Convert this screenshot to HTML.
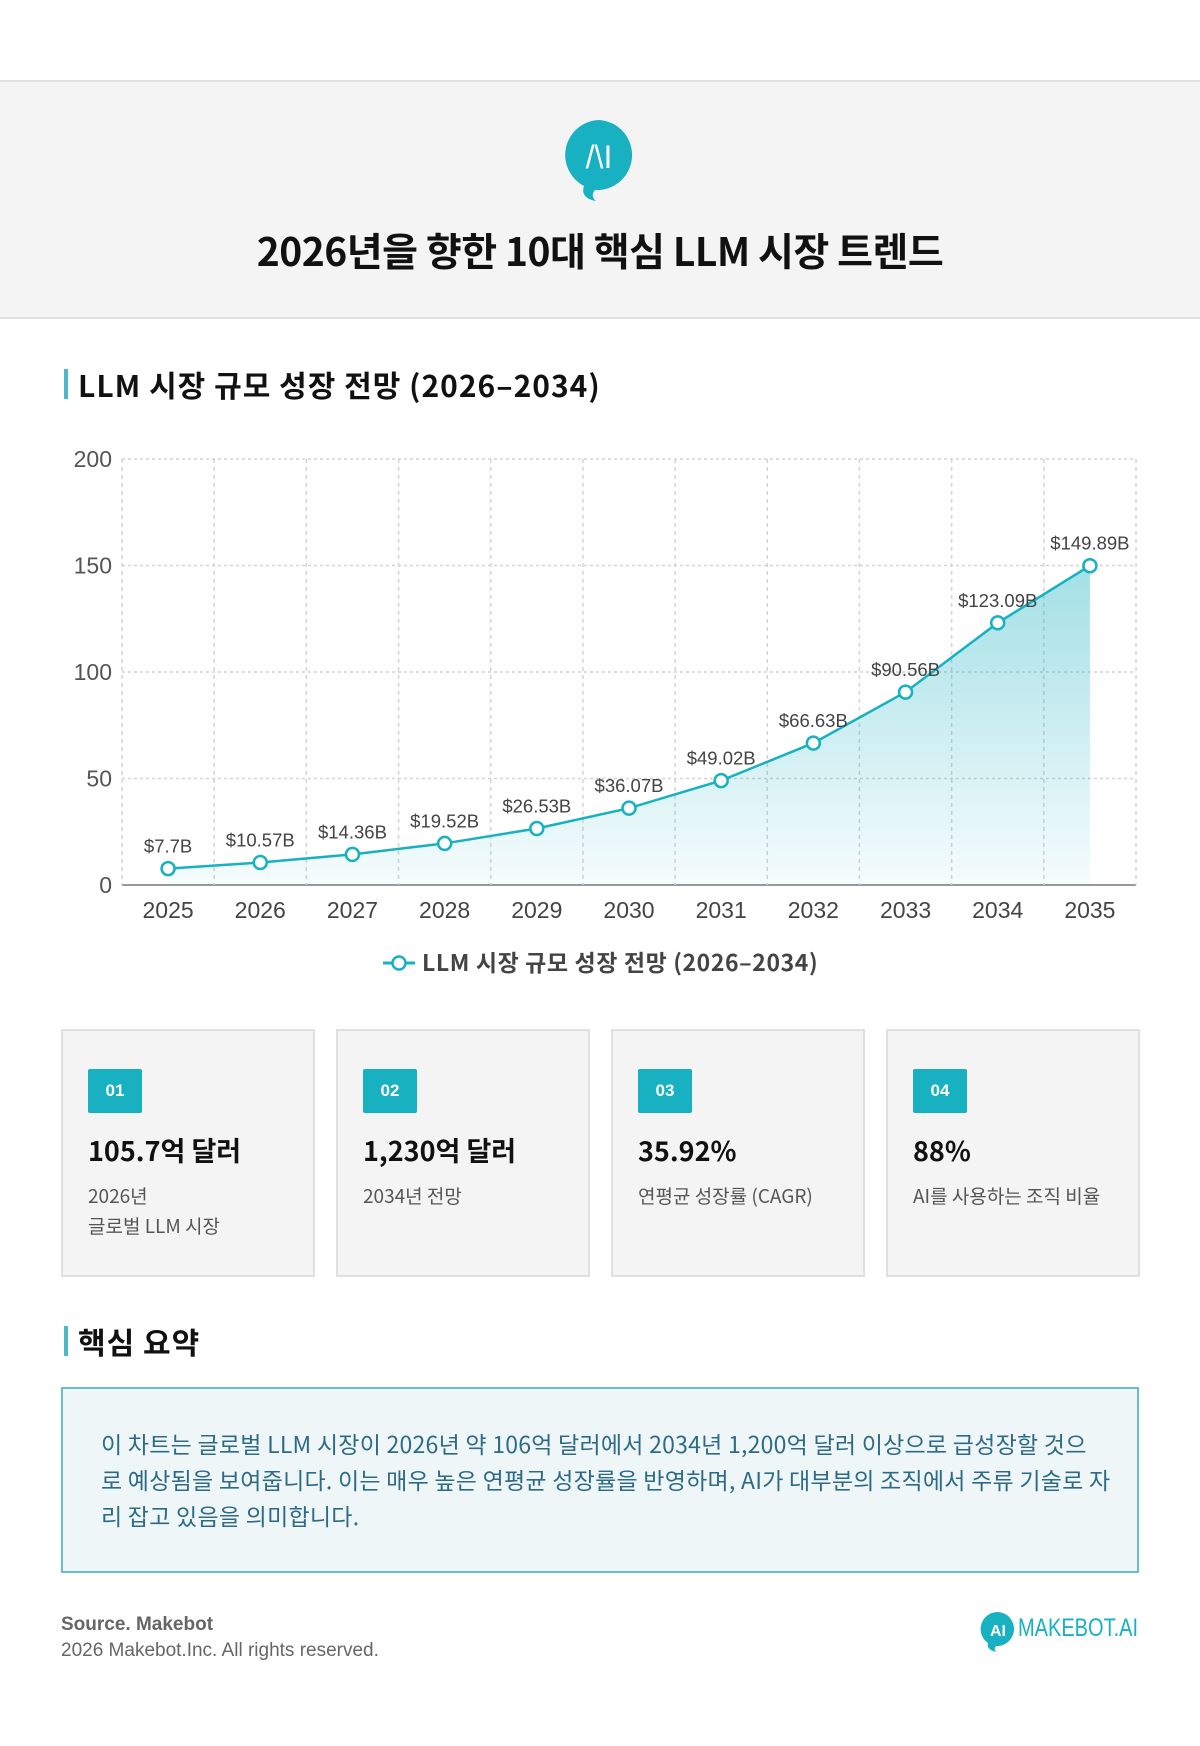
<!DOCTYPE html>
<html><head><meta charset="utf-8">
<style>
*{margin:0;padding:0;box-sizing:border-box}
body{width:1200px;height:1746px;background:#fff;font-family:"Liberation Sans","Noto Sans CJK KR",sans-serif;position:relative;overflow:hidden;color:#111}
.abs{position:absolute}
.header{left:0;top:80px;width:1200px;height:239px;background:#f4f4f4;border-top:2px solid #e0e0e0;border-bottom:2px solid #e0e0e0}
.title{left:0;width:1200px;top:222px;text-align:center;font-size:39px;font-weight:bold;font-family:"Noto Sans CJK KR",sans-serif;letter-spacing:-0.5px}
.sec{left:64px;font-size:30px;font-weight:bold;font-family:"Noto Sans CJK KR",sans-serif;border-left:4px solid #4cb8c9;padding-left:10px;line-height:30px;letter-spacing:1px}
.card{top:1029px;width:254px;height:248px;background:#f4f4f4;border:2px solid #e0e0e0}
.badge{left:25px;top:38px;width:54px;height:44px;background:#17b1c1;color:#fff;font-weight:bold;font-size:17px;text-align:center;line-height:44px;border-radius:2px}
.big{left:25px;top:99px;font-size:27px;font-weight:bold;font-family:"Noto Sans CJK KR",sans-serif;white-space:nowrap}
.sub{left:25px;top:150px;font-size:19px;color:#555;line-height:30px;font-family:"Noto Sans CJK KR",sans-serif;white-space:nowrap}
.summary{left:61px;top:1387px;width:1078px;height:186px;background:#eef6f8;border:2px solid #6fbccc;padding:36px 10px 36px 38px;font-size:23px;line-height:36px;letter-spacing:0.25px;color:#2d6a86;font-family:"Noto Sans CJK KR",sans-serif;white-space:nowrap}
</style></head><body>
<div class="abs header"></div>
<svg class="abs" style="left:562px;top:118px" width="74" height="84">
<path d="M37 2 A35 35 0 1 1 33 72 Q28 78 34 83 Q18 80 22 68 A35 35 0 0 1 37 2Z" fill="#17b1c1"/>
<text x="37" y="50" text-anchor="middle" font-size="32" fill="#fff" font-family="Liberation Sans" font-weight="300">/\I</text>
</svg>
<div class="abs title">2026년을 향한 10대 핵심 LLM 시장 트렌드</div>
<div class="abs sec" style="top:369px">LLM 시장 규모 성장 전망 (2026–2034)</div>

<svg class="abs" id="chart" style="left:0;top:430px" width="1200" height="560">
<defs><linearGradient id="g" x1="0" y1="0" x2="0" y2="1"><stop offset="0" stop-color="#17b1c1" stop-opacity="0.4"/><stop offset="1" stop-color="#17b1c1" stop-opacity="0.04"/></linearGradient></defs>
</svg>
<script>
const categories=["2025","2026","2027","2028","2029","2030","2031","2032","2033","2034","2035"];
const values=[7.7,10.57,14.36,19.52,26.53,36.07,49.02,66.63,90.56,123.09,149.89];
const valueLabels=["$7.7B","$10.57B","$14.36B","$19.52B","$26.53B","$36.07B","$49.02B","$66.63B","$90.56B","$123.09B","$149.89B"];
const yTicks=[0,50,100,150,200];
const svg=document.getElementById('chart');const NS="http://www.w3.org/2000/svg";
const L=122,R=1136,T=29,B=455,yMax=200;
const band=(R-L)/categories.length;
const x=i=>L+(i+0.5)*band;
const y=v=>B-(v/yMax)*(B-T);
function mk(t,a,p){const e=document.createElementNS(NS,t);for(const k in a)e.setAttribute(k,a[k]);(p||svg).appendChild(e);return e;}
yTicks.forEach(t=>{
 const l=mk('line',{x1:L,x2:R,y1:y(t),y2:y(t),stroke:t===0?'#999':'#d4d4d4','stroke-width':t===0?2:1.5,'stroke-dasharray':t===0?'':'3,3'});
 
 
 const tx=mk('text',{x:112,y:y(t)+8,'text-anchor':'end','font-size':23,fill:'#555'});tx.textContent=t;
 
 
});
for(let i=0;i<=categories.length;i++){
 const gx=L+i*band;
 const l=mk('line',{x1:gx,x2:gx,y1:T,y2:B,stroke:'#d4d4d4','stroke-width':1.5,'stroke-dasharray':'4,4'});
 
 
}
let d='',a='';
values.forEach((v,i)=>{d+=(i?'L':'M')+x(i)+' '+y(v);});
a=d+'L'+x(values.length-1)+' '+B+'L'+x(0)+' '+B+'Z';
const area=mk('path',{d:a,fill:'url(#g)'});


const line=mk('path',{d:d,fill:'none',stroke:'#17b1c1','stroke-width':2.5});


values.forEach((v,i)=>{
 const c=mk('circle',{cx:x(i),cy:y(v),r:6.5,fill:'#fff',stroke:'#17b1c1','stroke-width':2.5});
 
 
 const t=mk('text',{x:x(i),y:y(v)-16,'text-anchor':'middle','font-size':18.5,fill:'#444'});t.textContent=valueLabels[i];
 
 
 const xt=mk('text',{x:x(i),y:488,'text-anchor':'middle','font-size':23,fill:'#444'});xt.textContent=categories[i];
 
 
});
const lg=mk('g',{});


mk('line',{x1:383,x2:415,y1:533,y2:533,stroke:'#17b1c1','stroke-width':3},lg);
mk('circle',{cx:399,cy:533,r:6.5,fill:'#fff',stroke:'#17b1c1','stroke-width':2.5},lg);
const lt=mk('text',{x:422,y:541,'font-size':23,'font-weight':'bold',fill:'#444','font-family':'Noto Sans CJK KR','letter-spacing':'0.6'},lg);lt.textContent='LLM 시장 규모 성장 전망 (2026–2034)';
</script>

<div class="abs card" style="left:61px"><div class="abs badge">01</div><div class="abs big">105.7억 달러</div><div class="abs sub">2026년<br>글로벌 LLM 시장</div></div>
<div class="abs card" style="left:336px"><div class="abs badge">02</div><div class="abs big">1,230억 달러</div><div class="abs sub">2034년 전망</div></div>
<div class="abs card" style="left:611px"><div class="abs badge">03</div><div class="abs big">35.92%</div><div class="abs sub">연평균 성장률 (CAGR)</div></div>
<div class="abs card" style="left:886px"><div class="abs badge">04</div><div class="abs big">88%</div><div class="abs sub">AI를 사용하는 조직 비율</div></div>

<div class="abs sec" style="top:1326px">핵심 요약</div>
<div class="abs summary">이 차트는 글로벌 LLM 시장이 2026년 약 106억 달러에서 2034년 1,200억 달러 이상으로 급성장할 것으<br>로 예상됨을 보여줍니다. 이는 매우 높은 연평균 성장률을 반영하며, AI가 대부분의 조직에서 주류 기술로 자<br>리 잡고 있음을 의미합니다.</div>

<div class="abs" style="left:61px;top:1614px;font-size:19px;font-weight:bold;color:#666">Source. Makebot</div>
<div class="abs" style="left:61px;top:1640px;font-size:19px;color:#666">2026 Makebot.Inc. All rights reserved.</div>
<svg class="abs" style="left:978px;top:1610px" width="40" height="42">
<path d="M20 2 A17 17 0 1 1 18 36 Q15 40 19 42 Q8 40 10 33 A17 17 0 0 1 20 2Z" fill="#17b1c1"/>
<text x="20" y="26" text-anchor="middle" font-size="16" font-weight="bold" fill="#fff">AI</text>
</svg>
<div class="abs" style="left:1018px;top:1614px;font-size:25px;color:#17b1c1;transform:scaleX(0.8);transform-origin:left top">MAKEBOT.AI</div>
</body></html>
